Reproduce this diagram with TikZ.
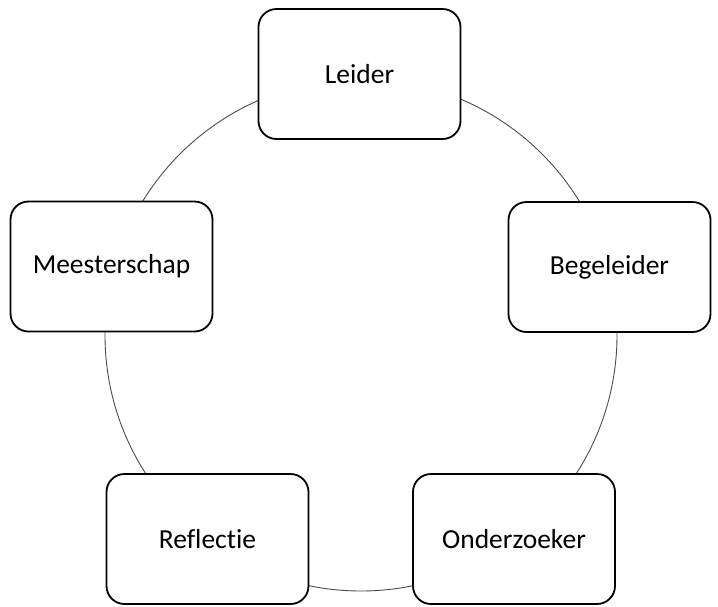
\documentclass[tikz,border=0pt]{standalone}
\usepackage{fontspec}
\setmainfont{Carlito}[Ligatures={NoCommon}]
\begin{document}
\begin{tikzpicture}[x=1pt,y=-1pt,
  role/.style={draw=black, line width=1.8pt, rounded corners=18pt, fill=white,
    minimum width=202pt, minimum height=130pt, inner sep=0pt,
    font=\fontsize{27.5}{33}\selectfont},
  ring/.style={line width=0.9pt, draw=black!70}]
\useasboundingbox (0,0) rectangle (718,606);
\coordinate (c) at (361,335);
\draw[ring] (c) circle[radius=256];
\node[role] (leider) at (359.5,74) {Leider};
\node[role] (begeleider) at (609.5,267) {Begeleider};
\node[role] (onderzoeker) at (514,539) {Onderzoeker};
\node[role] (reflectie) at (207.5,539) {Reflectie};
\node[role] (meesterschap) at (111.5,266.5) {Meesterschap};
\end{tikzpicture}
\end{document}
